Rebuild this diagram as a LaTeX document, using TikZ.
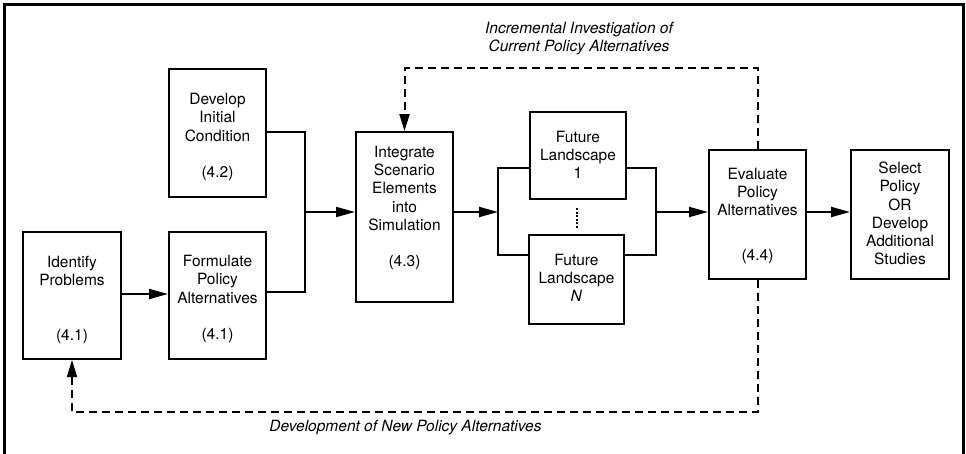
\documentclass[tikz,border=0pt]{standalone}
\usepackage{fontspec}
\setmainfont{TeX Gyre Heros}
\usetikzlibrary{arrows.meta,calc}
\tikzset{
  box/.style={draw, line width=2pt, inner sep=0pt},
  txt/.style={align=center, inner sep=0pt, font=\fontsize{15.5}{18.3}\selectfont},
  lbl/.style={align=center, inner sep=0pt, font=\fontsize{15.5}{18}\selectfont\itshape},
  conn/.style={line width=2pt},
  arr/.style={line width=2pt, -{Triangle[length=19pt,width=10pt]}},
  dashconn/.style={line width=2pt, dash pattern=on 8pt off 5pt},
  dasharr/.style={line width=2pt, dash pattern=on 8pt off 5pt, -{Triangle[length=17pt,width=10pt]}},
  dotline/.style={line width=2pt, dash pattern=on 2pt off 1.5pt}
}
\begin{document}
\begin{tikzpicture}[x=1pt,y=-1pt]
\useasboundingbox (0,0) rectangle (966,453);
\begin{scope}
\clip (0,0) rectangle (966,453);
\draw[line width=2.5pt] (4.5,4.5) rectangle (963.5,460);
\end{scope}

% boxes
\node[box, minimum width=97pt, minimum height=128pt] (dev) at (217.5,133) {};
\node[txt] (devt) at (217.5,137) {Develop\\Initial\\Condition\\[18.3pt](4.2)};

\node[box, minimum width=98pt, minimum height=127pt] (ident) at (72,295.5) {};
\node[txt] (identt) at (72,300) {Identify\\Problems\\[36.6pt](4.1)};

\node[box, minimum width=97pt, minimum height=127pt] (form) at (217.5,295.5) {};
\node[txt] (formt) at (217.5,299) {Formulate\\Policy\\Alternatives\\[18.3pt](4.1)};

\node[box, minimum width=97pt, minimum height=170pt] (integ) at (404.5,217) {};
\node[txt] (integt) at (404.5,208) {Integrate\\Scenario\\Elements\\into\\Simulation\\[18.3pt](4.3)};

\node[box, minimum width=96pt, minimum height=87pt] (fl1) at (578,155.5) {};
\node[txt] (fl1t) at (578,155) {Future\\Landscape\\1};

\node[box, minimum width=95pt, minimum height=89pt] (fln) at (576.5,279.5) {};
\node[txt] (flnt) at (576.5,278) {Future\\Landscape\\\textit{N}};

\node[box, minimum width=97pt, minimum height=129pt] (eval) at (757.5,214.5) {};
\node[txt] (evalt) at (757.5,216) {Evaluate\\Policy\\Alternatives\\[27pt](4.4)};

\node[box, minimum width=98pt, minimum height=129pt] (sel) at (900,214.5) {};
\node[txt] (selt) at (900,213.5) {Select\\Policy\\OR\\Develop\\Additional\\Studies};

% junction coordinates
\coordinate (j1) at (305,212);
\coordinate (j2) at (498,212);
\coordinate (j3) at (656,212);

% solid connectors
\draw[conn] ($(dev.east)+(0,-1)$) -| (j1) |- ($(form.east)+(0,-3.5)$);
\draw[arr] (j1) -- (integ.west |- j1);
\draw[arr] ($(ident.east)+(0,-1.5)$) -- ($(form.west)+(0,-1.5)$);
\draw[arr] (integ.east |- j2) -- (j2);
\draw[conn] ($(fl1.west)+(0,12.5)$) -| (j2) |- ($(fln.west)+(0,-24.5)$);
\draw[conn] ($(fl1.east)+(0,12.5)$) -| (j3) |- ($(fln.east)+(0,-24.5)$);
\draw[arr] (j3) -- (eval.west |- j3);
\draw[arr] (eval.east |- j3) -- (sel.west |- j3);

% ellipsis between landscapes
\draw[dotline] (577,208) -- (577,229);

% dashed feedback loops
\coordinate (t1) at (757.5,68);
\coordinate (b1) at (757.5,412);
\draw[dasharr] (eval.north) -- (t1) -| (integ.north);
\draw[dasharr] (eval.south) -- (b1) -| (ident.south);

% labels
\node[lbl] (toplbl) at (579,39) {Incremental Investigation of\\Current Policy Alternatives};
\node[lbl] (botlbl) at (405.5,428) {Development of New Policy Alternatives};
\end{tikzpicture}
\end{document}
